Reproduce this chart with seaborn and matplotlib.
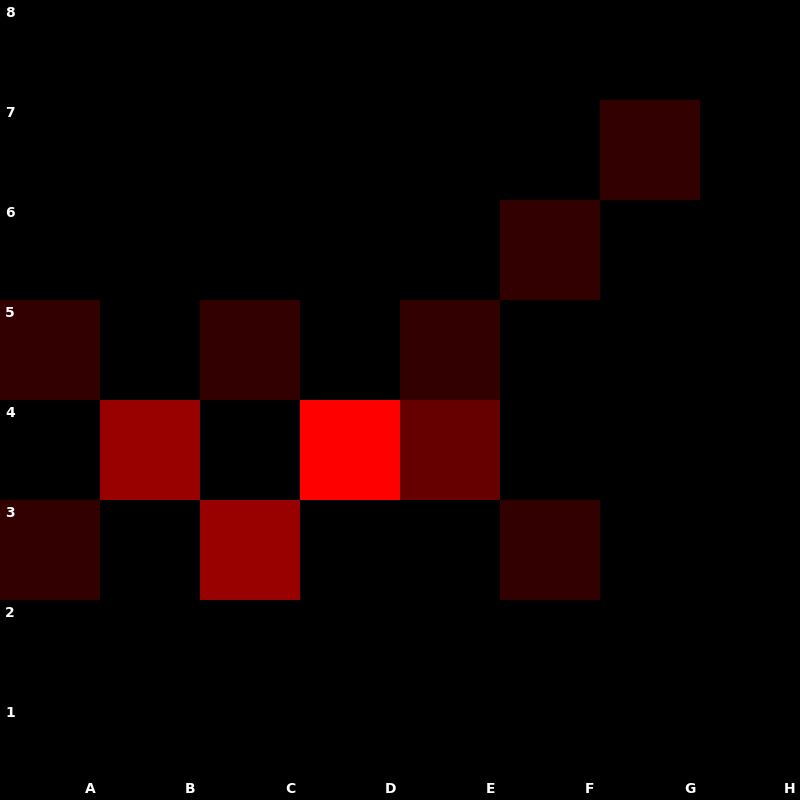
import numpy as np
import pandas as pd
import matplotlib
matplotlib.use("Agg")
import matplotlib.pyplot as plt
import seaborn as sns
from matplotlib.colors import LinearSegmentedColormap

# 열(파일)과 행(랭크) 라벨
files = ["A", "B", "C", "D", "E", "F", "G", "H"]
ranks = ["8", "7", "6", "5", "4", "3", "2", "1"]

# 각 칸의 값 (위쪽 행 = 8)
counts = [
    [0, 0, 0, 0, 0, 0, 0, 0],  # 8
    [0, 0, 0, 0, 0, 0, 1, 0],  # 7
    [0, 0, 0, 0, 0, 1, 0, 0],  # 6
    [1, 0, 1, 0, 1, 0, 0, 0],  # 5
    [0, 3, 0, 5, 2, 0, 0, 0],  # 4
    [1, 0, 3, 0, 0, 1, 0, 0],  # 3
    [0, 0, 0, 0, 0, 0, 0, 0],  # 2
    [0, 0, 0, 0, 0, 0, 0, 0],  # 1
]

df = pd.DataFrame(counts, index=ranks, columns=files)

# 검정 -> 빨강 컬러맵
cmap = LinearSegmentedColormap.from_list("blackred", ["#000000", "#ff0000"])

fig = plt.figure(figsize=(8, 8), dpi=100, facecolor="black")
ax = fig.add_axes([0, 0, 1, 1])
sns.heatmap(df, ax=ax, cmap=cmap, vmin=0, vmax=5, cbar=False,
            xticklabels=False, yticklabels=False, square=False)
ax.set_xlabel("")
ax.set_ylabel("")

# 행 라벨: 각 칸의 왼쪽 위
for i, r in enumerate(ranks):
    ax.text(0.05, i + 0.13, r, color="white", fontsize=10, fontweight="bold",
            ha="left", va="center")

# 열 라벨: 맨 아래 행의 오른쪽 아래
for j, f in enumerate(files):
    ax.text(j + 0.9, 7.89, f, color="white", fontsize=10, fontweight="bold",
            ha="center", va="center")

fig.savefig("out.png", dpi=100, facecolor="black")
